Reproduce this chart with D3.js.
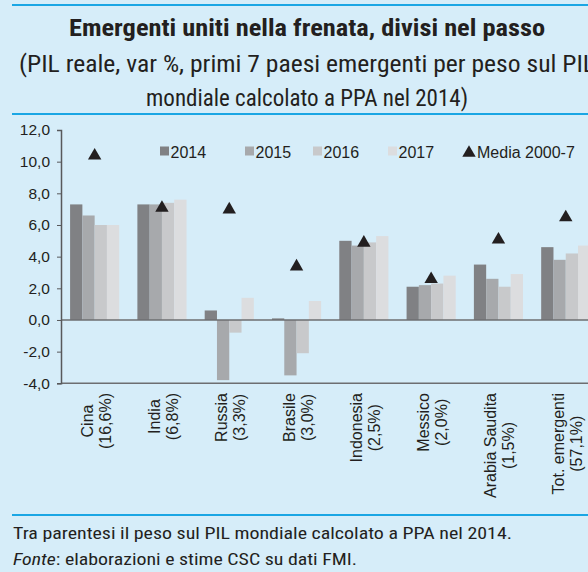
<!DOCTYPE html>
<html>
<head>
<meta charset="utf-8">
<script src="https://cdn.jsdelivr.net/npm/d3@7"></script>
<style>
  html, body { margin: 0; padding: 0; background: #d6edf9; overflow: hidden; }
  svg { display: block; }
  .cond { font-family: "Liberation Sans Narrow", "Roboto Condensed", "DejaVu Sans Condensed", "Liberation Sans", sans-serif; font-stretch: condensed; }
  .reg { font-family: "Liberation Sans", Arial, sans-serif; }
</style>
</head>
<body>
<svg id="chart" width="588" height="572"></svg>
<script>
(function () {
    // data
    const categories = [
        ["Cina", "(16,6%)"],
        ["India", "(6,8%)"],
        ["Russia", "(3,3%)"],
        ["Brasile", "(3,0%)"],
        ["Indonesia", "(2,5%)"],
        ["Messico", "(2,0%)"],
        ["Arabia Saudita", "(1,5%)"],
        ["Tot. emergenti", "(57,1%)"]
    ];
    const years = ["2014", "2015", "2016", "2017"];
    const v2014 = [7.3, 7.3, 0.6, 0.1, 5.0, 2.1, 3.5, 4.6];
    const v2015 = [6.6, 7.3, -3.8, -3.5, 4.7, 2.2, 2.6, 3.8];
    const v2016 = [6.0, 7.4, -0.8, -2.1, 4.9, 2.3, 2.1, 4.2];
    const v2017 = [6.0, 7.6, 1.4, 1.2, 5.3, 2.8, 2.9, 4.7];
    const media = [10.5, 7.2, 7.1, 3.5, 5.0, 2.7, 5.2, 6.6];
    const yTicks = [-4, -2, 0, 2, 4, 6, 8, 10, 12];

    const series = [v2014, v2015, v2016, v2017];
    const colors = ["#808184", "#a7a9ac", "#c8c9cb", "#dcdddf"];
    const names = categories.map(d => d.join(" "));

    const svg = d3.select("#chart");
    const fmt = v => d3.format(".1f")(v).replace(".", ",").replace("−", "-");

    //header and footer rules
    svg.append("g").selectAll("line")
        .data([5, 114, 515])
        .join("line")
        .attr("x1", 12).attr("x2", 588)
        .attr("y1", d => d).attr("y2", d => d)
        .attr("stroke", "#1aa6e4").attr("stroke-width", 2);

    //title block, widths forced to the picture
    const heads = [
        { t: "Emergenti uniti nella frenata, divisi nel passo", y: 36, w: 476, bold: true, size: 24 },
        { t: "(PIL reale, var %, primi 7 paesi emergenti per peso sul PIL", y: 71.5, w: 576, bold: false, size: 23 },
        { t: "mondiale calcolato a PPA nel 2014)", y: 106, w: 322, bold: false, size: 23 }
    ];
    svg.append("g").selectAll("text")
        .data(heads)
        .join("text")
        .attr("class", "cond")
        .attr("x", 307).attr("y", d => d.y)
        .attr("text-anchor", "middle")
        .attr("font-size", d => d.size)
        .attr("font-weight", d => d.bold ? "bold" : "normal")
        .attr("fill", "#231f20")
        .attr("textLength", d => d.w)
        .attr("lengthAdjust", "spacingAndGlyphs")
        .text(d => d.t);

    //scales
    const x0 = d3.scaleBand().domain(names).range([61, 599.4]).paddingInner(0.27).paddingOuter(0.135);
    const x1 = d3.scaleBand().domain(years).range([0, x0.bandwidth()]);
    const y = d3.scaleLinear().domain([-4, 12]).range([383.3, 130]);

    //bars
    const bars = svg.append("g");
    series.forEach((vals, i) => {
        bars.append("g")
            .selectAll("rect")
            .data(vals)
            .join("rect")
            .attr("x", (d, j) => x0(names[j]) + x1(years[i]))
            .attr("y", d => y(Math.max(0, d)))
            .attr("width", x1.bandwidth())
            .attr("height", d => Math.abs(y(d) - y(0)))
            .attr("fill", colors[i]);
    });

    //zero line and bottom axis line
    svg.append("g").selectAll("line")
        .data([0, -4])
        .join("line")
        .attr("x1", 61).attr("x2", 588)
        .attr("y1", d => y(d)).attr("y2", d => y(d))
        .attr("stroke", "#6d6e71").attr("stroke-width", 1.5);

    //y axis
    const yAxis = svg.append("g")
        .attr("transform", "translate(61,0)")
        .call(d3.axisLeft(y).tickValues(yTicks).tickFormat(fmt).tickSize(4).tickPadding(7));
    yAxis.select(".domain").attr("stroke", "#58595b").attr("stroke-width", 1.5);
    yAxis.selectAll(".tick line").attr("stroke", "#58595b");
    yAxis.selectAll(".tick text")
        .attr("class", "reg")
        .attr("font-size", 15.5)
        .attr("fill", "#231f20");

    //triangles - average 2000-7
    const tri = d3.symbol(d3.symbolTriangle, 78);
    svg.append("g").selectAll("path")
        .data(media)
        .join("path")
        .attr("d", tri)
        .attr("transform", (d, j) => `translate(${x0(names[j]) + x0.bandwidth() / 2},${y(d) + 2})`)
        .attr("fill", "#231f20");

    //category labels, rotated
    const labs = svg.append("g").selectAll("g")
        .data(categories)
        .join("g");
    labs.each(function (d, j) {
        const g = d3.select(this);
        const cx = x0(names[j]) + x0.bandwidth() / 2;
        const texts = d.map((t, k) => g.append("text")
            .attr("class", "reg")
            .attr("font-size", 16)
            .attr("fill", "#231f20")
            .attr("text-anchor", "middle")
            .text(t));
        const maxLen = d3.max(texts, t => t.node().getComputedTextLength());
        const yc = 393 + maxLen / 2;
        texts.forEach((t, k) => {
            t.attr("transform", `translate(${cx - 2 + k * 18},${yc}) rotate(-90)`);
        });
    });

    //legend
    const legX = [160, 245, 313, 388];
    const leg = svg.append("g");
    years.forEach((yr, i) => {
        leg.append("rect")
            .attr("x", legX[i]).attr("y", 146.5)
            .attr("width", 9).attr("height", 9)
            .attr("fill", colors[i]);
        leg.append("text")
            .attr("class", "reg")
            .attr("x", legX[i] + 10.5).attr("y", 158)
            .attr("font-size", 16)
            .attr("fill", "#231f20")
            .text(yr);
    });
    leg.append("path")
        .attr("d", tri)
        .attr("transform", "translate(469,153)")
        .attr("fill", "#231f20");
    leg.append("text")
        .attr("class", "reg")
        .attr("x", 477).attr("y", 158)
        .attr("font-size", 16)
        .attr("fill", "#231f20")
        .text("Media 2000-7");

    //footer
    svg.append("text")
        .attr("class", "cond")
        .attr("x", 13).attr("y", 538.5)
        .attr("font-size", 16.5)
        .attr("fill", "#231f20")
        .attr("textLength", 499)
        .attr("lengthAdjust", "spacingAndGlyphs")
        .text("Tra parentesi il peso sul PIL mondiale calcolato a PPA nel 2014.");
    const src = svg.append("text")
        .attr("class", "cond")
        .attr("x", 13).attr("y", 565)
        .attr("font-size", 16.5)
        .attr("fill", "#231f20")
        .attr("textLength", 344)
        .attr("lengthAdjust", "spacingAndGlyphs");
    src.append("tspan").attr("font-style", "italic").text("Fonte");
    src.append("tspan").text(": elaborazioni e stime CSC su dati FMI.");
})();
</script>
</body>
</html>
